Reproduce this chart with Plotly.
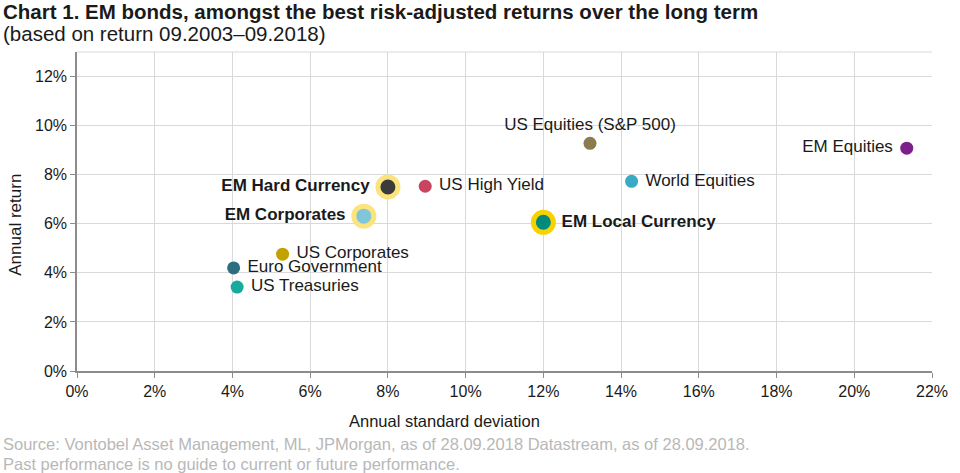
import plotly.graph_objects as go

names = ["EM Hard Currency", "US High Yield", "EM Corporates", "EM Local Currency",
         "US Corporates", "Euro Government", "US Treasuries", "US Equities (S&P 500)",
         "World Equities", "EM Equities"]
std_dev = [8.0, 8.96, 7.38, 12.0, 5.29, 4.03, 4.12, 13.2, 14.27, 21.35]
ann_ret = [7.5, 7.53, 6.31, 6.06, 4.76, 4.2, 3.42, 9.28, 7.73, 9.08]
colors = ["#3b3b3b", "#c8445f", "#7ec6d8", "#008a7c", "#c2a200", "#2b6f80",
          "#17aa9f", "#8b7c4f", "#3aaac3", "#7b1f8b"]
halo = ["#fbe37d", None, "#fbe37d", "#f6d200", None, None, None, None, None, None]
text_pos = ["middle left", "middle right", "middle left", "middle right", "middle right",
            "middle right", "middle right", "top center", "middle right", "middle left"]
bold = [True, False, True, True, False, False, False, False, False, False]

x_ticks = [0, 2, 4, 6, 8, 10, 12, 14, 16, 18, 20, 22]
y_ticks = [0, 2, 4, 6, 8, 10, 12]

fig = go.Figure()
for i, n in enumerate(names):
    label = f"<b>{n}</b>" if bold[i] else n
    if halo[i]:
        marker = dict(size=20, color=colors[i], line=dict(color=halo[i], width=5))
    else:
        marker = dict(size=13, color=colors[i], line=dict(width=0))
    pad = " " if bold[i] else " "
    if text_pos[i] == "middle right":
        label = pad + label
    elif text_pos[i] == "middle left":
        label = label + pad
    fig.add_trace(go.Scatter(
        x=[std_dev[i]], y=[ann_ret[i]], mode="markers+text", text=[label],
        textposition=text_pos[i], marker=marker,
        textfont=dict(family="Liberation Sans, Arial", size=17, color="#1a1a1a"),
        showlegend=False, hoverinfo="skip", cliponaxis=False))

fig.update_layout(
    width=960, height=473,
    margin=dict(l=77, r=18, t=52, b=102),
    paper_bgcolor="white", plot_bgcolor="white",
    font=dict(family="Liberation Sans, Arial", size=16, color="#1a1a1a"),
    xaxis=dict(range=[0, 22], tickvals=x_ticks, ticktext=[f"{v}%" for v in x_ticks],
               showgrid=True, gridcolor="#d9d9d9", gridwidth=1, zeroline=False,
               showline=True, linecolor="#8c8c8c", linewidth=1.5, ticks="outside",
               ticklen=5, tickcolor="#8c8c8c", mirror=False,
               tickfont=dict(size=16, color="#1a1a1a")),
    yaxis=dict(range=[0, 13], tickvals=y_ticks, ticktext=[f"{v}%" for v in y_ticks],
               showgrid=True, gridcolor="#d9d9d9", gridwidth=1, zeroline=False,
               showline=True, linecolor="#8c8c8c", linewidth=1.5, ticks="outside",
               ticklen=5, tickcolor="#8c8c8c",
               tickfont=dict(size=16, color="#1a1a1a")),
)
fig.add_shape(type="line", xref="paper", yref="paper", x0=0, x1=1, y0=1, y1=1,
              line=dict(color="#d9d9d9", width=1))

ann = [
    dict(text="<b>Chart 1. EM bonds, amongst the best risk-adjusted returns over the long term</b>",
         x=0, y=473 - 11, size=20.5, color="#1a1a1a"),
    dict(text="(based on return 09.2003–09.2018)", x=0, y=473 - 33, size=20.5, color="#1a1a1a"),
    dict(text="Source: Vontobel Asset Management, ML, JPMorgan, as of 28.09.2018 Datastream, as of 28.09.2018.",
         x=0, y=473 - 444, size=16.5, color="#b8b8b8"),
    dict(text="Past performance is no guide to current or future performance.",
         x=0, y=473 - 464, size=16.5, color="#b8b8b8"),
]
for a in ann:
    fig.add_annotation(text=a["text"], xref="paper", yref="paper",
                       x=(a["x"] - 77) / (960 - 77 - 18), y=(a["y"] - 102) / (473 - 52 - 102),
                       xanchor="left", yanchor="middle", showarrow=False,
                       font=dict(size=a["size"], color=a["color"]))
fig.add_annotation(text="Annual standard deviation", xref="paper", yref="paper",
                   x=(449 - 77) / 865, y=(473 - 421 - 102) / 319, xanchor="center",
                   yanchor="middle", showarrow=False, font=dict(size=16.5, color="#1a1a1a"))
fig.add_annotation(text="Annual return", xref="paper", yref="paper",
                   x=(14 - 77) / 865, y=(473 - 225 - 102) / 319, xanchor="center",
                   yanchor="middle", showarrow=False, textangle=-90,
                   font=dict(size=17, color="#1a1a1a"))

fig.write_html("out.html")
